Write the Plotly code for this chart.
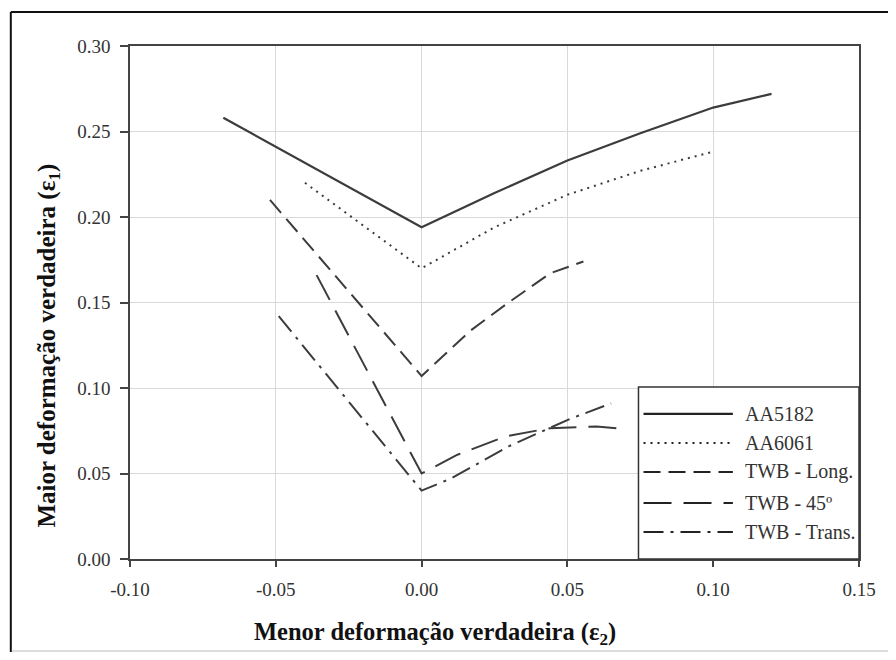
import plotly.graph_objects as go

# ---- data ----
aa5182_x = [-0.068, 0.0, 0.025, 0.05, 0.075, 0.10, 0.120]
aa5182_y = [0.258, 0.194, 0.214, 0.233, 0.249, 0.264, 0.272]

aa6061_x = [-0.040, 0.0, 0.025, 0.05, 0.075, 0.0995]
aa6061_y = [0.220, 0.170, 0.194, 0.213, 0.227, 0.238]

twb_long_x = [-0.052, 0.0, 0.0167, 0.029, 0.044, 0.0555]
twb_long_y = [0.210, 0.107, 0.1335, 0.149, 0.167, 0.174]

twb_45_x = [-0.036, 0.0, 0.0123, 0.029, 0.044, 0.050, 0.060, 0.070]
twb_45_y = [0.166, 0.050, 0.061, 0.0718, 0.0765, 0.077, 0.0775, 0.076]

twb_trans_x = [-0.049, 0.0, 0.010, 0.030, 0.051, 0.065]
twb_trans_y = [0.142, 0.040, 0.047, 0.066, 0.082, 0.091]

series_names = ["AA5182", "AA6061", "TWB - Long.", "TWB - 45º", "TWB - Trans."]
series_dash = ["solid", "2px,5px", "17px,8px", "28px,12px", "20px,7px,3px,7px"]

x_ticks = [-0.10, -0.05, 0.00, 0.05, 0.10, 0.15]
y_ticks = [0.00, 0.05, 0.10, 0.15, 0.20, 0.25, 0.30]

LINE_COLOR = "#3c3c3c"
FONT = "Liberation Serif"

fig = go.Figure()
all_x = [aa5182_x, aa6061_x, twb_long_x, twb_45_x, twb_trans_x]
all_y = [aa5182_y, aa6061_y, twb_long_y, twb_45_y, twb_trans_y]
for name, xs, ys, dash in zip(series_names, all_x, all_y, series_dash):
    fig.add_trace(go.Scatter(
        x=xs, y=ys, mode="lines", name=name, showlegend=False,
        line=dict(color=LINE_COLOR, width=2.2 if dash == "solid" else 2, dash=dash),
    ))

shapes = []
annotations = []

# custom legend box (paper coords)
shapes.append(dict(type="rect", xref="paper", yref="paper", x0=0.6975, x1=1.0, y0=0.0, y1=0.3353,
                   line=dict(color="#333333", width=1.5), fillcolor="white", layer="above"))
row_y = [0.2827, 0.2261, 0.1696, 0.1092, 0.0526]
for name, dash, ry in zip(series_names, series_dash, row_y):
    shapes.append(dict(type="line", xref="paper", yref="paper", x0=0.7044, x1=0.8270, y0=ry, y1=ry,
                       line=dict(color="#222222", width=2.2 if dash == "solid" else 2, dash=dash),
                       layer="above"))
    annotations.append(dict(xref="paper", yref="paper", x=0.8406, y=ry, text=name, showarrow=False,
                            xanchor="left", yanchor="middle",
                            font=dict(family=FONT, size=20, color="#333333")))

# outer frame of the figure
shapes.append(dict(type="line", xref="paper", yref="paper", x0=-0.1635, x1=1.06, y0=1.0663, y1=1.0663,
                   line=dict(color="#111111", width=2)))
shapes.append(dict(type="line", xref="paper", yref="paper", x0=-0.1635, x1=-0.1635, y0=1.0663, y1=-0.21,
                   line=dict(color="#111111", width=2)))
shapes.append(dict(type="line", xref="paper", yref="paper", x0=-0.1620, x1=1.06, y0=-0.1793, y1=-0.1793,
                   line=dict(color="#d0d0d0", width=1.5)))

# axis titles
annotations.append(dict(xref="paper", yref="paper", x=(437 - 130) / 734, y=(559 - 633) / 513,
                        text="Menor deformação verdadeira (ε<sub>2</sub>)", showarrow=False,
                        xanchor="center", yanchor="middle",
                        font=dict(family=FONT, size=24.5, color="#111111", weight="bold")))
annotations.append(dict(xref="paper", yref="paper", x=(47 - 130) / 734, y=(559 - 346) / 513,
                        text="Maior deformação verdadeira (ε<sub>1</sub>)", showarrow=False,
                        textangle=-90, xanchor="center", yanchor="middle",
                        font=dict(family=FONT, size=25, color="#111111", weight="bold")))

# the page has an 8px body margin, so the figure is sized/offset to compensate
fig.update_layout(
    width=880, height=644,
    margin=dict(l=122, r=24, t=38, b=93),
    paper_bgcolor="white", plot_bgcolor="white",
    font=dict(family=FONT, color="#333333"),
    shapes=shapes, annotations=annotations,
    showlegend=False,
)
fig.update_xaxes(
    range=[-0.10, 0.15], tickvals=x_ticks, ticktext=[f"{v:.2f}" for v in x_ticks],
    showgrid=True, gridcolor="#d9d9d9", gridwidth=1, zeroline=False,
    showline=True, linecolor="#444444", linewidth=1.5, mirror=True,
    ticks="outside", ticklen=6, tickcolor="#444444", tickwidth=1.5,
    tickfont=dict(family=FONT, size=19, color="#333333"), ticklabelstandoff=6,
)
fig.update_yaxes(
    range=[0.0, 0.30], tickvals=y_ticks, ticktext=[f"{v:.2f}" for v in y_ticks],
    showgrid=True, gridcolor="#d9d9d9", gridwidth=1, zeroline=False,
    showline=True, linecolor="#444444", linewidth=1.5, mirror=True,
    ticks="outside", ticklen=8, tickcolor="#444444", tickwidth=1.5,
    tickfont=dict(family=FONT, size=19, color="#333333"), ticklabelstandoff=6,
)

fig.write_html("out.html")
